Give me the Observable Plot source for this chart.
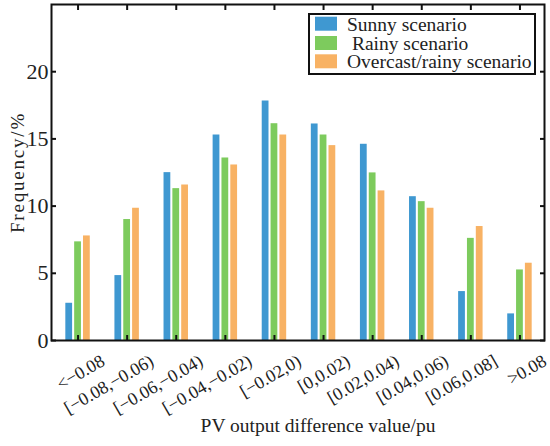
<!DOCTYPE html>
<html>
<head>
<meta charset="utf-8">
<script src="https://cdn.jsdelivr.net/npm/d3@7"></script>
<script src="https://cdn.jsdelivr.net/npm/@observablehq/plot@0.6"></script>
<style>
  body { margin: 0; background: #fff; }
  #chart { width: 550px; height: 446px; }
</style>
</head>
<body>
<div id="chart"></div>
<script>
const categories = ["<\u22120.08", "[\u22120.08,\u22120.06)", "[\u22120.06,\u22120.04)", "[\u22120.04,\u22120.02)", "[\u22120.02,0)", "[0,0.02)", "[0.02,0.04)", "[0.04,0.06)", "[0.06,0.08]", ">0.08"];
const seriesNames = ["Sunny scenario", "Rainy scenario", "Overcast/rainy scenario"];
const legendLabels = ["Sunny scenario", " Rainy scenario", "Overcast/rainy scenario"];
const sunny    = [2.77, 4.83, 12.49, 15.29, 17.82, 16.11, 14.60, 10.70, 3.64, 1.98];
const rainy    = [7.34, 9.00, 11.30, 13.58, 16.13, 15.29, 12.47, 10.33, 7.60, 5.25];
const overcast = [7.78, 9.84, 11.57, 13.06, 15.29, 14.50, 11.13, 9.84, 8.48, 5.75];
const colors = ["#3f98d1", "#7dcb5d", "#f8b264"];
const yTicks = [0, 5, 10, 15, 20];
const yTitle = "Frequency/%";
const xTitle = "PV output difference value/pu";

const seriesValues = [sunny, rainy, overcast];
const xTicks = categories.map((_, i) => i + 1);
const rows = [];
categories.forEach((c, i) => seriesNames.forEach((s, j) => rows.push({i: i + 1, j, series: s, value: seriesValues[j][i]})));

const off = 0.18, half = 0.069;
const font = '"Liberation Serif", "Times New Roman", serif';

const chart = Plot.plot({
  width: 550, height: 446,
  marginLeft: 51, marginRight: 6, marginTop: 4, marginBottom: 106,
  style: {fontFamily: font, background: "#fff", color: "#222"},
  x: {type: "linear", domain: [0.5, 10.5], insetLeft: 2},
  y: {domain: [0, 25]},
  color: {domain: seriesNames, range: colors},
  marks: [
    Plot.rect(rows, {
      x1: d => d.i + (d.j - 1) * off - half,
      x2: d => d.i + (d.j - 1) * off + half,
      y1: 0, y2: "value", fill: "series"
    }),
    // inward ticks on all four sides
    Plot.axisX(xTicks, {anchor: "bottom", tickSize: -5, tickFormat: () => "", label: null, stroke: "#111", strokeWidth: 2}),
    Plot.axisX(xTicks, {anchor: "top", tickSize: -5, tickFormat: () => "", label: null, stroke: "#111", strokeWidth: 2}),
    Plot.axisY(yTicks, {anchor: "left", tickSize: -5, tickFormat: () => "", label: null, stroke: "#111", strokeWidth: 2}),
    Plot.axisY(yTicks, {anchor: "right", tickSize: -5, tickFormat: () => "", label: null, stroke: "#111", strokeWidth: 2}),
    // tick labels
    Plot.axisX(xTicks, {anchor: "bottom", tickSize: 0, tickPadding: 19, tickRotate: -30, dx: 25, fontSize: 18,
      tickFormat: i => categories[i - 1], label: null, fill: "#222"}),
    Plot.axisY(yTicks, {anchor: "left", tickSize: 0, tickPadding: 3, fontSize: 22, label: null, fill: "#222"}),
    Plot.frame({stroke: "#111", strokeWidth: 2}),
    Plot.text([yTitle], {text: d => d, frameAnchor: "left", textAnchor: "middle", lineAnchor: "middle", rotate: -90, dx: -34, fontSize: 19, fill: "#222"}),
    Plot.text([xTitle], {text: d => d, frameAnchor: "bottom", textAnchor: "middle", dy: 91, dx: 20, fontSize: 19, fill: "#222"})
  ]
});

document.getElementById("chart").appendChild(chart);
const svg = d3.select(chart);
svg.attr("font-family", font);
const texts = svg.selectAll("text");
texts.filter(function() { return categories.includes(this.textContent); })
  .attr("font-size", 18).style("font-size", "18px");
texts.filter(function() { return yTicks.map(String).includes(this.textContent); })
  .attr("font-size", 22).style("font-size", "22px");
texts.filter(function() { return this.textContent === yTitle; })
  .attr("font-size", 19).style("font-size", "19px").attr("letter-spacing", 1.8);
texts.filter(function() { return this.textContent === xTitle; })
  .attr("font-size", 19.5).style("font-size", "19.5px");

// legend
const lg = svg.append("g").attr("font-family", font).attr("text-anchor", "start");
lg.append("rect").attr("x", 309).attr("y", 14).attr("width", 226).attr("height", 60)
  .attr("fill", "#fff").attr("stroke", "#111").attr("stroke-width", 2);
const swTop = [16.7, 36, 54.3];
const baseY = [31, 49.8, 68.3];
legendLabels.forEach((lab, k) => {
  lg.append("rect").attr("x", 315).attr("y", swTop[k]).attr("width", 22).attr("height", 14).attr("fill", colors[k]);
  lg.append("text").attr("x", 347).attr("y", baseY[k]).attr("font-size", 19.5).attr("fill", "#222")
    .attr("text-anchor", "start").style("white-space", "pre").text(lab);
});
</script>
</body>
</html>
